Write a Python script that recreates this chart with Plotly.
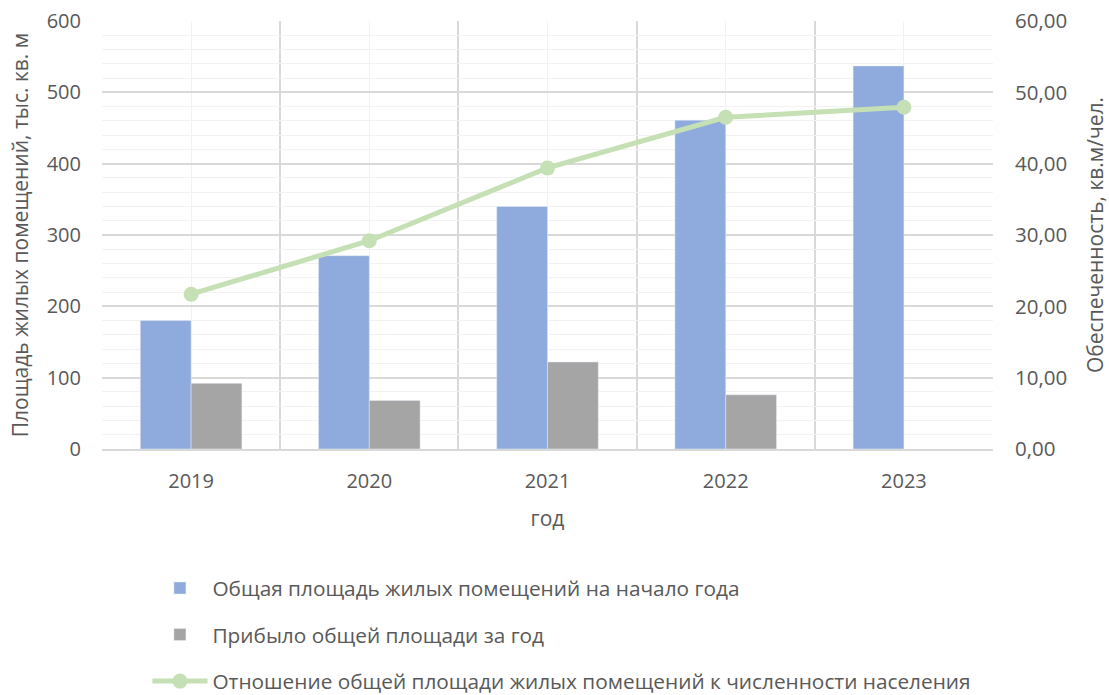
import plotly.graph_objects as go

years = [2019, 2020, 2021, 2022, 2023]
total_area = [180, 271, 340, 461, 537]
added_area = [92, 68, 122, 76, None]
per_capita = [21.7, 29.2, 39.4, 46.5, 47.9]

names = [
    "Общая площадь жилых помещений на начало года",
    "Прибыло общей площади за год",
    "Отношение общей площади жилых помещений к численности населения",
]

FONT = "Open Sans"
TXT = "#595959"

fig = go.Figure()
fig.add_trace(go.Bar(x=years, y=total_area, name=names[0], marker_color="#8faadc",
                     legendgroup="a", yaxis="y"))
fig.add_trace(go.Bar(x=years, y=added_area, name=names[1], marker_color="#a5a5a5",
                     legendgroup="b", yaxis="y"))
fig.add_trace(go.Scatter(x=years, y=per_capita, name=names[2], mode="lines+markers",
                         line=dict(color="#c5e0b4", width=5),
                         marker=dict(color="#c5e0b4", size=15),
                         legendgroup="c", yaxis="y2"))

fig.update_layout(
    width=1109, height=695,
    margin=dict(l=102, r=116, t=21, b=246, autoexpand=False),
    paper_bgcolor="white", plot_bgcolor="white",
    separators=", ",
    font=dict(family=FONT, size=20, color=TXT),
    barmode="group", bargap=0.43, bargroupgap=0,
    showlegend=True,
    legend=dict(orientation="v", x=0.051, xanchor="left", y=-0.278, yanchor="top",
                font=dict(size=20.8, color=TXT), tracegroupgap=16.5, itemwidth=55,
                bgcolor="rgba(0,0,0,0)"),
    xaxis=dict(
        range=[2018.5, 2023.5], tickmode="array", tickvals=years,
        ticktext=[str(y) for y in years],
        showgrid=True, gridcolor="#f2f2f2", gridwidth=1,
        minor=dict(tickmode="linear", tick0=2018.5, dtick=1, showgrid=True,
                   gridcolor="#d9d9d9", gridwidth=1.5),
        showline=True, linecolor="#d9d9d9", linewidth=1.5,
        ticks="", zeroline=False, automargin=False, ticklabelstandoff=13,
        title=dict(text="год", font=dict(size=21, color=TXT), standoff=19),
        tickfont=dict(size=20, color=TXT),
    ),
    yaxis=dict(
        range=[0, 600], dtick=100, showgrid=True, gridcolor="#d9d9d9", gridwidth=1.5,
        minor=dict(dtick=20, showgrid=True, gridcolor="#f2f2f2", gridwidth=1),
        zeroline=False, ticks="", tickfont=dict(size=20, color=TXT),
        automargin=False, ticklabelstandoff=20,
        title=dict(text="Площадь жилых помещений, тыс. кв. м",
                   font=dict(size=21, color=TXT), standoff=12),
    ),
    yaxis2=dict(
        range=[0, 60], dtick=10, tickformat=".2f", overlaying="y", side="right",
        showgrid=False, zeroline=False, ticks="", tickfont=dict(size=20.5, color=TXT),
        automargin=False, ticklabelstandoff=21,
        title=dict(text="Обеспеченность, кв.м/чел.",
                   font=dict(size=21, color=TXT), standoff=24),
    ),
)

fig.write_html("out.html", config={"displayModeBar": False},
               post_script="document.body.style.margin='0';")
